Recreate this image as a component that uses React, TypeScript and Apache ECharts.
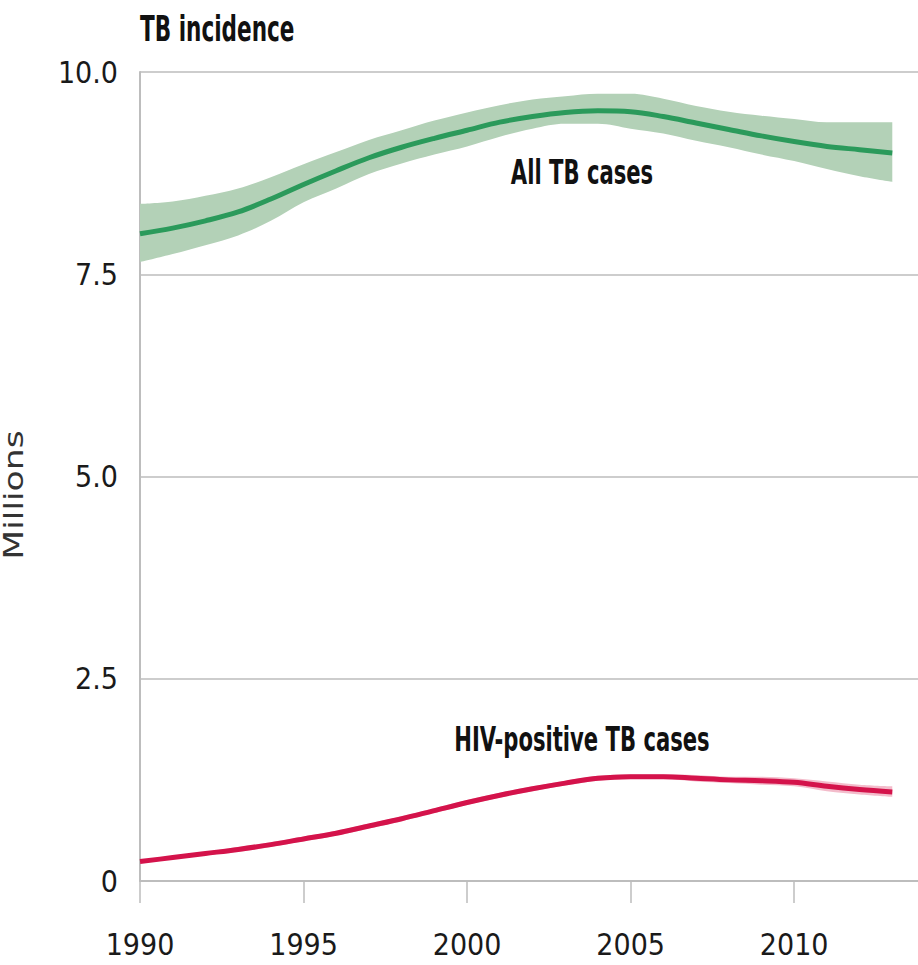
import React, { useEffect, useRef } from "react";
import * as echarts from "echarts";

// Axis categories (2014 is the axis end, cropped at the right edge; it has no data)
const xCategories = ["1990", "1991", "1992", "1993", "1994", "1995", "1996", "1997", "1998", "1999", "2000", "2001", "2002", "2003", "2004", "2005", "2006", "2007", "2008", "2009", "2010", "2011", "2012", "2013", "2014"];
const allTB = [8.0, 8.07, 8.16, 8.27, 8.43, 8.61, 8.78, 8.94, 9.07, 9.18, 9.28, 9.38, 9.45, 9.5, 9.52, 9.51, 9.45, 9.37, 9.29, 9.21, 9.14, 9.08, 9.04, 9.0];
const allTBHigh = [8.37, 8.4, 8.47, 8.56, 8.7, 8.86, 9.01, 9.16, 9.28, 9.4, 9.5, 9.59, 9.66, 9.7, 9.73, 9.73, 9.67, 9.58, 9.51, 9.46, 9.42, 9.38, 9.38, 9.38];
const allTBLow = [7.65, 7.75, 7.86, 7.98, 8.16, 8.39, 8.56, 8.74, 8.87, 8.98, 9.08, 9.2, 9.3, 9.36, 9.36, 9.3, 9.24, 9.15, 9.07, 8.98, 8.9, 8.8, 8.71, 8.64];
const hiv = [0.24, 0.29, 0.34, 0.39, 0.45, 0.52, 0.59, 0.68, 0.77, 0.87, 0.97, 1.06, 1.14, 1.21, 1.27, 1.29, 1.29, 1.27, 1.25, 1.24, 1.22, 1.17, 1.13, 1.1];
const hivHigh = [0.26, 0.31, 0.36, 0.42, 0.48, 0.55, 0.62, 0.71, 0.8, 0.9, 1.0, 1.09, 1.17, 1.24, 1.3, 1.32, 1.32, 1.31, 1.29, 1.29, 1.27, 1.23, 1.19, 1.17];
const hivLow = [0.22, 0.27, 0.32, 0.36, 0.42, 0.49, 0.56, 0.65, 0.74, 0.84, 0.94, 1.03, 1.11, 1.18, 1.24, 1.26, 1.26, 1.23, 1.21, 1.19, 1.17, 1.11, 1.07, 1.04];
const yTicks = ["0", "2.5", "5.0", "7.5", "10.0"];

const title = "TB incidence";
const yName = "Millions";
const labelAll = "All TB cases";
const labelHiv = "HIV-positive TB cases";

const NARROW = "'Liberation Sans Narrow', 'DejaVu Sans Condensed', 'Roboto Condensed', 'Liberation Sans', sans-serif";

export default function App() {
  const ref = useRef<HTMLDivElement>(null);
  useEffect(() => {
    if (!ref.current) return;
    const chart = echarts.init(ref.current, undefined, { renderer: "svg" });
    const diff = (hi: number[], lo: number[]) => hi.map((h, i) => +(h - lo[i]).toFixed(3));
    const smooth = 0.35;
    chart.setOption({
      animation: false,
      grid: { left: 140, width: 785, top: 72, bottom: 84, outerBoundsMode: "none", containLabel: false },
      xAxis: {
        type: "category",
        data: xCategories,
        boundaryGap: false,
        axisLine: { show: true, lineStyle: { color: "#bdbdbd", width: 2 } },
        axisTick: { show: true, interval: 4, length: 22, lineStyle: { color: "#bdbdbd", width: 1.5 } },
        splitLine: { show: false },
        axisLabel: {
          interval: 4,
          margin: 48,
          fontSize: 30,
          fontFamily: NARROW,
          color: "#1a1a1a",
        },
      },
      yAxis: {
        type: "value",
        min: 0,
        max: 10,
        interval: 2.5,
        axisLine: { show: true, lineStyle: { color: "#bdbdbd", width: 2 } },
        axisTick: { show: false },
        splitLine: { show: true, lineStyle: { color: "#bdbdbd", width: 1.5 } },
        axisLabel: {
          margin: 22,
          fontSize: 30,
          fontFamily: NARROW,
          color: "#1a1a1a",
          formatter: (v: number) => yTicks[Math.round(v / 2.5)] ?? "",
        },
      },
      graphic: [
        {
          type: "text",
          x: 140,
          y: 11,
          scaleY: 1.5,
          style: { text: title, font: `bold 24px ${NARROW}`, fill: "#111", verticalAlign: "top" },
        },
        {
          type: "text",
          x: 14,
          y: 495,
          rotation: Math.PI / 2,
          scaleX: 1.33,
          style: {
            text: yName,
            font: "26px 'DejaVu Sans', Verdana, sans-serif",
            fill: "#333",
            align: "center",
            verticalAlign: "middle",
          },
        },
        {
          type: "text",
          x: 582,
          y: 172,
          scaleY: 1.45,
          style: { text: labelAll, font: `bold 23.5px ${NARROW}`, fill: "#111", align: "center", verticalAlign: "middle" },
        },
        {
          type: "text",
          x: 582,
          y: 739,
          scaleY: 1.45,
          style: { text: labelHiv, font: `bold 23.5px ${NARROW}`, fill: "#111", align: "center", verticalAlign: "middle" },
        },
      ],
      series: [
        {
          type: "line",
          stack: "allBand",
          data: allTBLow,
          smooth,
          symbol: "none",
          lineStyle: { opacity: 0 },
          silent: true,
        },
        {
          type: "line",
          stack: "allBand",
          data: diff(allTBHigh, allTBLow),
          smooth,
          symbol: "none",
          lineStyle: { opacity: 0 },
          areaStyle: { color: "#b3d1b7", opacity: 1 },
          silent: true,
        },
        {
          type: "line",
          stack: "hivBand",
          data: hivLow,
          smooth,
          symbol: "none",
          lineStyle: { opacity: 0 },
          silent: true,
        },
        {
          type: "line",
          stack: "hivBand",
          data: diff(hivHigh, hivLow),
          smooth,
          symbol: "none",
          lineStyle: { opacity: 0 },
          areaStyle: { color: "#f3bccb", opacity: 1 },
          silent: true,
        },
        {
          type: "line",
          data: allTB,
          smooth,
          symbol: "none",
          lineStyle: { color: "#2b9a5b", width: 5 },
          z: 5,
        },
        {
          type: "line",
          data: hiv,
          smooth,
          symbol: "none",
          lineStyle: { color: "#d4134b", width: 5 },
          z: 5,
        },
      ],
    });
    return () => chart.dispose();
  }, []);
  return <div ref={ref} style={{ position: "fixed", left: 0, top: 0, width: 918, height: 965, background: "#fff" }} />;
}
